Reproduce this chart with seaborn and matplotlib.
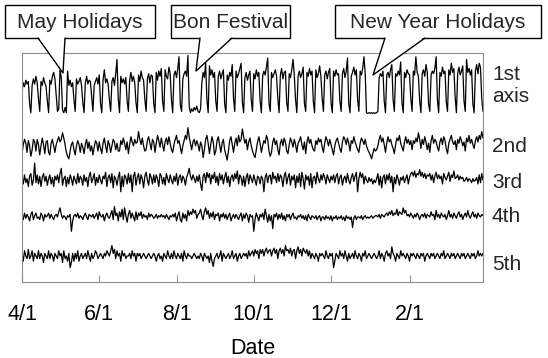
import numpy as np
import pandas as pd
import seaborn as sns
import matplotlib.pyplot as plt
import matplotlib.dates as mdates
from matplotlib.patches import Rectangle, Polygon
from matplotlib.lines import Line2D
from matplotlib.ticker import FuncFormatter

# daily principal-component scores, 2001/4/1 - 2002/3/31 (rows = weeks, Sun..Sat)
start_date = "2001-04-01"
n_days = 365

axis1 = [
    -0.3, 0.4, 0.1, 0.6, 0.3, 0.5, -1.2,
    -1.9, 0.2, 0.7, 0.3, 0.9, 0.4, -0.8,
    -1.8, 0.5, 0.2, 0.8, 0.4, 0.1, -1.0,
    -1.9, 0.6, 0.3, 0.9, 1.2, 0.7, -0.6,
    -1.8, -1.6, 1.4, 0.8, -1.7, -1.9, -1.5,
    -1.9, 1.3, 0.2, 0.6, 0.1, 0.4, -0.9,
    -1.8, 0.7, 0.3, 0.5, 0.8, 0.2, -1.1,
    -1.9, 0.4, 0.9, 0.3, 0.6, 0.5, -0.7,
    -1.8, 0.2, 0.5, 0.8, 0.3, 1.0, -1.2,
    -1.9, 0.6, 1.4, 0.4, 0.7, 0.3, -0.9,
    -1.8, 0.5, 0.8, 0.2, 1.1, 2.2, -0.8,
    -1.9, 0.9, 0.4, 0.7, 0.3, 0.8, -1.0,
    -1.8, 0.6, 1.2, 0.5, 0.9, 0.4, -1.1,
    -1.9, 1.0, 0.5, 1.3, 0.8, 0.6, -0.9,
    -1.8, 0.7, 1.1, 0.4, 1.0, 0.9, -1.2,
    -1.9, 1.2, 0.6, 1.3, 0.9, 1.5, -1.0,
    -1.8, 1.4, 0.9, 0.7, 1.6, 1.1, -0.9,
    -1.9, 1.0, 1.3, 0.8, 1.5, 2.4, -1.3,
    -1.8, 0.7, 1.1, 1.3, 0.9, 2.5, -1.4,
    -1.9, -1.6, -1.8, -1.5, -1.7, -1.4, -1.8,
    -1.9, -1.6, 0.4, 1.2, 0.8, 1.9, -0.9,
    -1.9, 1.7, 1.0, 1.4, 0.8, 1.2, -1.0,
    -1.8, 0.9, 1.3, 0.7, 1.1, 1.4, -1.2,
    -1.9, 1.0, 0.6, 1.2, 0.9, 1.8, -0.8,
    -1.8, 1.3, 0.8, 1.1, 1.5, 1.9, -1.1,
    -1.9, 0.8, 1.2, 0.6, 1.0, 1.3, -0.9,
    -1.8, 1.1, 0.7, 1.4, 0.9, 1.2, -1.0,
    -1.9, 0.9, 1.3, 1.0, 1.6, 2.3, -1.2,
    -1.8, 1.2, 0.8, 1.1, 1.4, 0.9, -0.8,
    -1.9, 1.0, 1.5, 0.7, 1.2, 1.3, -1.1,
    -1.8, 1.1, 0.8, 1.4, 2.2, 1.0, -0.9,
    -1.9, 0.9, 1.3, 0.8, 1.1, 1.6, -1.2,
    -1.8, 1.2, 0.9, 1.5, 1.0, 1.3, -1.0,
    -1.9, 1.4, 0.8, 1.1, 1.7, 0.9, -0.8,
    -1.8, 1.0, 1.3, 0.7, 1.2, 1.5, -1.1,
    -1.9, 1.3, 0.9, 1.4, 1.0, 1.1, -1.0,
    -1.8, 1.1, 1.5, 0.8, 1.3, 2.3, -1.2,
    -1.9, 0.9, 1.2, 1.6, 1.0, 1.4, -0.9,
    -1.8, 1.3, 1.0, 1.5, 2.4, 1.1, -1.9,
    -1.95, -1.9, -1.95, -1.9, -1.95, -1.9, -1.95,
    -1.9, -1.8, 0.8, 1.1, 0.9, 1.3, -1.0,
    -1.9, 1.0, 1.2, 0.8, 1.4, 1.8, -0.9,
    -1.8, 1.1, 0.9, 1.3, 1.0, 2.0, -1.1,
    -1.9, 1.2, 0.8, 1.4, 1.1, 1.0, -0.8,
    -1.8, 1.3, 1.0, 2.4, 1.2, 0.9, -1.0,
    -1.9, 1.1, 1.4, 0.9, 1.8, 1.2, -1.2,
    -1.8, 1.0, 1.3, 1.1, 1.5, 2.4, -0.9,
    -1.9, 1.2, 0.9, 1.6, 1.1, 1.3, -1.1,
    -1.8, 1.4, 1.0, 1.9, 1.2, 1.5, -0.7,
    -1.9, 1.1, 1.6, 1.0, 1.3, 1.7, -1.0,
    -1.8, 2.2, 1.2, 1.5, 1.0, 1.4, -1.2,
    -1.9, 1.3, 1.8, 1.1, 1.9, 1.6, -0.8,
    -1.8,
]

axis2 = [
    -0.5, 0.2, 0.6, 0.3, -0.4, 0.5, 0.1,
    -0.7, -0.2, 0.6, 0.4, -0.3, 0.6, 0.2,
    -0.6, 0.1, 0.7, 0.2, -0.5, 0.4, 0.5,
    -0.4, -0.6, 0.3, 0.6, 0.1, -0.4, 0.2,
    0.5, 0.8, 0.4, 0.6, 1.1, 0.7, 0.2,
    -0.4, -0.7, -0.9, -0.3, 0.2, 0.4, -0.2,
    -0.6, 0.1, 0.5, 0.2, -0.4, 0.3, 0.0,
    -0.5, 0.2, 0.6, -0.1, 0.4, -0.3, 0.1,
    -0.6, 0.0, 0.5, 0.3, -0.3, 0.4, -0.1,
    -0.5, 0.3, 0.7, 0.1, -0.4, 0.5, 0.2,
    -0.4, 0.1, 0.6, 0.4, -0.2, 0.3, -0.3,
    -0.3, 0.5, 0.2, 0.7, 0.3, -0.2, 0.4,
    -0.5, 0.2, 0.8, 0.4, 0.1, 0.6, 0.3,
    0.4, 1.2, 0.6, 0.2, 0.7, 0.1, -0.3,
    -0.2, 0.5, 0.8, 0.3, -0.2, 0.6, 0.4,
    -0.4, 0.3, 0.9, 0.5, 0.0, 0.7, 0.2,
    -0.3, 0.4, 0.7, 0.2, 0.8, 0.3, -0.2,
    -0.4, 0.2, 0.6, 0.9, 0.3, 0.5, 0.0,
    -0.5, 0.1, 0.5, 0.9, 0.6, 1.5, 0.8,
    0.3, -0.2, 0.4, 0.6, 0.1, 0.5, 0.2,
    -0.3, 0.4, 0.1, -0.8, -0.2, 0.6, 0.9,
    0.3, -0.5, 0.2, 0.8, 0.4, -0.6, -0.3,
    0.5, 0.8, 0.2, -0.4, 0.3, 0.6, -0.2,
    -0.6, -1.0, -0.3, 0.5, 0.8, 0.2, -0.4,
    0.3, 0.7, 0.1, 0.9, 0.4, 0.6, 1.4,
    0.8, 0.3, 0.6, -0.2, 0.4, 0.7, 0.1,
    -0.3, -0.6, -0.8, -0.2, 0.4, 0.8, 0.3,
    -0.4, 0.1, 0.5, 0.3, 0.9, 0.6, -0.3,
    -0.7, -0.4, 0.4, 0.7, 0.2, 0.5, -0.2,
    -0.6, 0.3, 0.6, 0.1, 0.7, 0.4, -0.3,
    -0.5, 0.2, 0.7, 0.4, 0.0, 0.6, 0.2,
    -0.4, 0.3, 0.5, 0.8, 0.2, -0.2, 0.4,
    -0.5, 0.4, 0.8, 0.3, 0.6, 0.1, -0.2,
    -0.3, 0.5, 0.2, 0.7, 0.4, 0.6, 0.0,
    -0.4, 0.3, 0.8, 0.5, 0.1, 0.6, 0.2,
    -0.2, -0.6, 0.1, 0.5, 0.7, 0.3, -0.1,
    -0.4, 0.4, 0.8, 0.6, 0.2, 0.7, 0.3,
    -0.3, 0.5, 0.3, 0.8, 0.4, 0.1, -0.2,
    -0.4, 0.3, 0.7, 0.5, 0.2, 0.6, 0.1,
    -0.2, -0.4, -0.6, -0.9, -0.5, -0.1, -0.3,
    -0.2, 0.1, 0.6, 0.9, 0.4, 0.7, 0.2,
    -0.4, 0.3, 0.8, 0.4, 0.6, 0.2, -0.1,
    -0.5, 0.2, 0.7, 0.5, 0.9, 0.3, 0.0,
    -0.3, 0.4, 0.8, 0.3, 0.6, 0.2, 0.5,
    -0.2, 0.5, 0.3, 0.7, 0.4, 1.1, 0.6,
    -0.1, 0.6, 0.2, 0.8, 0.4, -0.2, 0.3,
    -0.4, 0.5, 0.9, 0.3, 0.6, 0.4, 0.0,
    -0.3, 0.4, 0.7, 0.2, 0.8, 0.5, -0.1,
    -0.5, 0.3, 0.6, 0.9, 0.4, 0.2, 0.5,
    -0.2, 0.6, 0.3, 0.8, 0.5, 0.1, 0.4,
    -0.3, 0.7, 0.4, 0.9, 0.3, 0.6, 0.2,
    -0.1, 0.5, 0.8, 0.4, 0.9, 0.6, 1.2,
    0.7,
]

axis3 = [
    0.2, -0.3, 0.4, -0.2, 0.1, -0.5, 0.3,
    0.5, -0.4, 0.0, 1.3, -0.2, 0.4, -0.3,
    0.3, -0.5, 0.2, 0.5, -0.1, 0.3, -0.4,
    0.1, 0.4, -0.3, 0.2, -0.5, 0.3, 0.0,
    0.4, -0.2, 0.5, 0.9, -0.4, 0.1, 0.3,
    -0.5, 0.2, -0.3, 0.4, 0.1, -0.4, 0.3,
    0.0, -0.3, 0.5, -0.2, 0.3, 0.1, -0.4,
    0.4, -0.1, 0.2, -0.5, 0.3, 0.6, -0.2,
    0.1, 0.5, -0.4, 0.2, -0.2, 0.4, 0.0,
    -0.3, 0.3, 0.1, 0.6, -0.5, 0.2, 0.4,
    -0.2, 0.5, -0.6, 0.3, 0.1, -0.4, 0.2,
    0.6, -0.9, 0.3, -0.5, 0.4, 0.2, -0.3,
    0.5, -0.2, 0.4, -0.9, 0.3, 0.6, -0.4,
    0.2, 0.5, -0.3, 0.4, 0.1, -0.6, 0.3,
    0.6, 0.0, -0.4, 0.5, 0.2, -0.3, 0.4,
    -0.2, 0.4, 0.1, -0.5, 0.5, 0.3, -0.3,
    0.2, -0.4, 0.5, 0.1, -0.2, 0.4, 0.0,
    -0.3, 0.3, -0.1, 0.5, -0.4, 0.2, 0.4,
    -0.2, 0.3, 0.1, -0.4, 0.2, 0.5, 0.9,
    0.3, 0.0, 0.4, 0.1, -0.2, 0.3, -0.1,
    0.4, -0.3, -0.8, 0.3, 0.5, -0.2, 0.6,
    0.2, 0.5, -0.3, 0.4, 0.1, 0.6, -0.2,
    0.3, -0.4, 0.5, 0.0, 0.4, -0.3, 0.2,
    0.6, -0.2, 0.3, -0.5, 0.2, 0.4, -0.1,
    0.5, 0.1, 0.7, -0.3, 0.4, 0.2, -0.4,
    0.3, -0.5, 0.2, 0.5, -0.3, 0.4, 0.1,
    -0.2, 0.4, 0.0, -0.4, 0.3, 0.2, -0.3,
    0.3, 0.1, -0.9, 0.2, 0.5, -0.2, 0.3,
    0.4, -0.3, 0.6, 0.1, 0.3, -0.2, 0.5,
    -0.1, 0.4, 0.2, -0.5, 0.3, 0.6, -0.3,
    0.2, 0.5, -0.4, 0.3, 0.0, 0.4, -0.6,
    0.3, -0.2, 0.5, -0.5, 0.6, 0.1, -0.7,
    0.4, 0.0, 0.3, -0.4, 0.5, -0.6, 0.2,
    0.3, -0.3, 0.6, 0.1, -0.2, 0.4, 0.0,
    0.5, 0.2, -0.3, 0.4, 0.1, -0.2, 0.3,
    0.0, 0.4, -0.2, 0.3, 0.5, -0.3, 0.2,
    0.4, -0.4, 0.1, 0.3, -0.2, 0.5, 0.0,
    -0.3, 0.2, 0.5, -0.1, 0.3, 0.6, -0.9,
    0.1, 0.6, 0.2, 0.5, -0.3, 0.3, 0.0,
    -0.2, 0.2, -0.1, 0.1, -0.3, 0.0, -0.2,
    0.1, 0.5, -0.4, 0.3, -0.6, 0.2, 0.4,
    -0.3, 0.4, 0.0, 0.5, -0.2, 0.3, -0.9,
    0.2, -0.3, 0.4, 0.1, -0.4, 0.2, 0.0,
    0.3, -0.2, 0.1, 0.4, -0.3, 0.2, 0.5,
    0.6, 0.3, 0.7, 0.2, 0.5, 0.4, 0.8,
    0.3, 0.6, 0.2, 0.5, 0.1, 0.4, 0.3,
    0.5, 0.0, 0.4, -0.2, 0.3, 0.6, 0.1,
    0.4, 0.1, 0.3, -0.3, 0.5, 0.2, 0.0,
    0.3, 0.6, -0.1, 0.4, 0.2, 0.7, 0.1,
    0.2, 0.4, 0.0, 0.3, 0.1, 0.2, -0.1,
    0.0, 0.2, -0.1, 0.1, 0.0, -0.2, 0.1,
    -0.1, 0.0, 0.2, -0.3, 0.4, -0.2, 0.5,
    0.0,
]

axis4 = [
    0.1, -0.2, 0.3, -0.1, 0.2, 0.0, -0.3,
    0.2, 0.4, -0.2, 0.1, 0.3, -0.1, 0.0,
    -0.2, 0.3, 0.1, -0.3, 0.2, 0.0, 0.1,
    0.3, -0.1, 0.2, 0.0, -0.2, 0.1, 0.2,
    0.0, 0.4, 0.7, 0.2, -0.1, 0.1, 0.0,
    -0.2, 0.1, 0.0, 0.2, -1.1, -0.3, 0.1,
    0.2, 0.0, 0.3, -0.1, 0.1, 0.0, -0.2,
    0.1, 0.3, 0.0, -0.2, 0.2, 0.1, 0.0,
    0.2, -0.1, 0.1, 0.3, -0.2, 0.4, 0.1,
    0.0, 0.2, -0.3, 0.1, 0.3, 0.0, -0.1,
    0.2, 0.5, -0.2, 0.8, 0.1, 0.3, -0.3,
    0.4, 0.0, 0.6, -0.2, 0.7, 0.1, -0.4,
    0.2, 0.5, -0.1, 0.3, 0.0, -0.3, 0.4,
    -0.2, 0.3, 0.1, 0.4, -0.1, 0.2, 0.0,
    0.1, -0.2, 0.3, 0.0, 0.2, 0.1, -0.1,
    0.0, 0.2, -0.1, 0.1, 0.0, 0.2, 0.0,
    0.1, -0.1, 0.2, 0.0, -0.2, 0.1, 0.0,
    0.2, 0.0, 0.3, -0.3, 0.1, 0.4, -0.2,
    -0.4, 0.3, -0.1, 0.2, -0.3, 0.5, 0.1,
    0.4, 0.2, 0.6, 0.3, 0.5, -0.1, 0.2,
    0.3, 0.6, 0.1, -0.2, 0.4, 0.7, 0.2,
    0.5, -0.1, 0.3, 0.0, 0.4, -0.2, 0.2,
    0.1, 0.3, -0.3, 0.2, 0.0, 0.3, -0.1,
    0.2, -0.2, 0.1, 0.3, -0.3, 0.0, 0.2,
    -0.1, 0.2, 0.0, -0.2, 0.1, 0.3, -0.3,
    0.2, -0.1, 0.3, 0.1, -0.4, 0.2, 0.0,
    0.1, -1.1, -0.2, 0.3, 0.0, -0.3, 0.2,
    0.0, 0.3, -0.2, 0.6, 0.1, -0.4, 0.2,
    -0.3, 0.1, -0.9, 0.2, 0.0, 0.3, -0.2,
    0.2, -0.1, 0.3, -0.2, 0.1, -0.3, 0.2,
    0.0, 0.2, -0.2, 0.1, 0.3, -0.1, 0.0,
    -0.2, 0.1, 0.0, 0.2, -0.1, 0.1, -0.2,
    0.1, -0.3, 0.2, 0.0, -0.2, 0.1, 0.0,
    -0.1, 0.1, -0.2, 0.0, 0.1, -0.3, 0.0,
    0.0, -0.2, 0.1, -0.1, 0.0, -0.2, 0.1,
    -0.3, 0.0, -0.1, 0.1, -0.2, 0.0, -0.1,
    0.1, -0.2, 0.0, -0.3, 0.1, -0.1, 0.0,
    -0.2, 0.0, -0.8, -0.1, 0.1, -0.2, 0.0,
    0.0, -0.1, 0.1, -0.2, 0.0, 0.1, -0.1,
    0.0, -0.1, 0.0, 0.1, -0.1, 0.0, 0.1,
    0.1, 0.0, 0.2, -0.1, 0.2, 0.1, 0.0,
    0.2, 0.3, 0.1, 0.4, 0.2, 0.5, 0.1,
    0.3, 0.2, 0.6, 0.1, 0.4, 0.3, 0.2,
    0.7, 0.3, 0.5, 0.1, 0.2, 0.0, 0.3,
    0.1, -0.1, 0.2, 0.0, 0.3, 0.1, -0.2,
    0.1, 0.2, 0.0, 0.3, -0.1, 0.2, 0.1,
    0.0, 0.4, 0.1, 0.2, -0.2, 0.5, 0.0,
    0.2, -0.1, 0.3, 0.1, 0.0, 0.2, -0.2,
    0.1, 0.5, 0.0, 0.2, -0.1, 0.3, 0.1,
    -0.1, 0.2, 0.4, 0.0, 0.2, -0.2, 0.1,
    0.3, 0.0, 0.5, 0.1, -0.1, 0.2, 0.4,
    0.0, 0.2, -0.1, 0.3, 0.1, 0.0, 0.2,
    0.1,
]

axis5 = [
    0.2, -0.4, 0.4, 0.0, -0.2, 0.5, -0.2,
    0.0, 0.4, -0.4, 0.2, 0.0, -0.2, 0.4,
    -0.2, 0.2, 0.0, -0.5, 0.2, 0.0, -0.2,
    0.4, -0.2, 0.2, 0.0, -0.4, 0.2, 0.0,
    -0.2, 0.4, 0.0, 0.2, -0.5, 0.4, -0.2,
    0.0, -0.4, 0.2, -0.9, -0.5, 0.2, -0.4,
    0.2, -0.2, 0.4, -0.4, 0.0, 0.2, -0.2,
    0.0, 0.2, -0.2, 0.4, 0.0, -0.4, 0.2,
    -0.2, 0.0, 0.4, 0.2, -0.2, 0.0, 0.2,
    0.0, -0.2, 0.2, 0.0, 0.4, 0.2, 0.0,
    0.4, 0.8, 0.2, 0.5, -0.2, 0.4, 0.0,
    0.2, -0.4, 0.4, 0.0, 0.2, -0.2, 0.0,
    0.0, 0.2, -0.2, 0.4, 0.0, 0.2, -0.4,
    0.2, 0.0, 0.2, -0.2, 0.0, 0.2, 0.0,
    -0.2, 0.0, 0.2, 0.0, -0.2, 0.0, 0.2,
    0.0, -0.4, 0.0, 0.2, -0.2, 0.0, -0.4,
    0.2, 0.0, -0.2, 0.4, 0.0, -0.2, 0.2,
    -0.2, 0.4, 0.0, -0.2, 0.2, 0.0, -0.2,
    0.2, -0.4, 0.4, 0.0, -0.2, 0.2, 0.0,
    0.0, -0.2, 0.0, 0.2, 0.0, -0.2, 0.0,
    -0.2, 0.2, 0.0, -0.4, 0.2, 0.0, -0.2,
    0.0, -0.5, 0.2, -0.4, -0.8, -0.2, 0.0,
    0.2, -0.2, 0.0, 0.4, -0.4, 0.2, 0.0,
    -0.2, 0.0, 0.2, -0.2, 0.0, 0.4, -0.2,
    0.0, 0.2, -0.4, 0.0, 0.2, -0.2, 0.0,
    0.2, 0.0, 0.2, -0.2, 0.4, 0.0, 0.2,
    0.4, 0.0, 0.5, 0.2, 0.4, -0.2, 0.5,
    0.2, 0.5, 0.0, 0.4, 0.6, 0.2, 0.4,
    0.5, 0.0, 0.4, 0.6, 0.2, 0.5, -0.2,
    0.4, 0.6, 0.2, 0.5, 0.0, 0.8, 0.4,
    0.5, 0.2, 0.6, 0.0, 0.4, 0.5, -0.2,
    0.4, 0.7, 0.2, 0.5, 0.0, 0.6, 0.4,
    0.2, 0.5, 0.0, 0.4, -0.2, 0.2, 0.0,
    -0.2, 0.2, 0.0, -0.4, 0.2, 0.0, 0.2,
    0.0, -0.2, 0.4, 0.0, -0.2, 0.2, 0.0,
    0.2, -0.9, -0.4, 0.2, 0.0, -0.2, 0.4,
    0.0, 0.2, -0.2, 0.4, 0.0, -0.4, 0.2,
    -0.2, 0.0, 0.2, -0.2, 0.4, 0.0, -0.2,
    0.2, 0.0, -0.4, 0.2, 0.0, 0.4, -0.2,
    0.0, 0.2, 0.0, -0.2, 0.0, 0.2, 0.0,
    -0.2, 0.0, 0.4, -0.2, 0.2, 0.0, -0.4,
    0.2, 0.4, 0.0, 0.2, -0.2, 0.7, 0.2,
    0.0, -0.4, 0.2, 0.0, -0.2, 0.4, 0.0,
    0.2, 0.0, -0.2, 0.2, 0.0, -0.4, 0.2,
    0.0, 0.2, 0.0, -0.2, 0.2, 0.0, -0.2,
    0.2, 0.0, 0.2, -0.4, 0.0, 0.2, 0.0,
    -0.2, 0.2, 0.0, 0.2, -0.2, 0.0, 0.2,
    0.0, -0.2, 0.2, 0.0, 0.4, -0.2, 0.0,
    0.2, 0.0, -0.2, 0.2, 0.0, 0.2, -0.2,
    0.0, 0.2, 0.0, -0.2, 0.2, 0.0, 0.2,
    -0.2, 0.0, 0.2, 0.0, -0.2, 0.2, 0.0,
    0.2, -0.2, 0.0, 0.4, 0.0, 0.2, 0.0,
    0.2,
]

series = [axis1, axis2, axis3, axis4, axis5]
series_labels = ["1st\naxis", "2nd", "3rd", "4th", "5th"]
offsets = [0.0, -4.55, -7.08, -9.92, -12.92]   # vertical stacking
label_y_px = [85, 146, 182, 216, 265]

callouts = ["May Holidays", "Bon Festival", "New Year Holidays"]
# box (x0, y0, x1, y1), wedge base left/right and tip, in pixels from top-left
callout_boxes = [(5, 5, 155, 38), (171, 5, 290, 38), (335, 5, 541, 38)]
callout_wedges = [((38, 65), (63, 73)), ((200, 232), (196, 71)), ((385, 425), (373, 75))]

sns.set_theme(style="white")
plt.rcParams["font.family"] = ["Liberation Sans", "DejaVu Sans"]

W, H = 548, 358
fig = plt.figure(figsize=(W / 100, H / 100), dpi=100)
ax = fig.add_axes([22 / W, 1 - 282 / H, (483 - 22) / W, (282 - 53) / H])

dates = pd.date_range(start_date, periods=n_days, freq="D")
for vals, off in zip(series, offsets):
    assert len(vals) == n_days
    sns.lineplot(x=dates, y=np.array(vals) + off, color="black", lw=0.9, ax=ax)

ax.set_xlim(dates[0], dates[-1])
ax.set_ylim(-14.92, 2.69)
ax.set_yticks([])
ax.xaxis.set_major_locator(mdates.MonthLocator(bymonth=[2, 4, 6, 8, 10, 12]))
ax.xaxis.set_major_formatter(FuncFormatter(
    lambda v, p: f"{mdates.num2date(v).month}/{mdates.num2date(v).day}"))
ax.tick_params(axis="x", direction="in", length=5, width=0.8, color="0.6",
               pad=16, labelsize=15.5, labelcolor="black", bottom=True)
ax.set_xlabel("Date", fontsize=15.5, labelpad=9, color="black")
ax.set_ylabel("")
for sp in ax.spines.values():
    sp.set_color("0.55")
    sp.set_linewidth(0.8)


def fx(x):
    return x / W


def fy(y):
    return 1 - y / H


for lab, y in zip(series_labels, label_y_px):
    fig.text(fx(492), fy(y), lab, fontsize=15, ha="left", va="center",
             linespacing=1.2)

for text, (x0, y0, x1, y1), ((bl, br), (tx, ty)) in zip(callouts, callout_boxes, callout_wedges):
    fig.add_artist(Rectangle((fx(x0), fy(y1)), fx(x1 - x0), (y1 - y0) / H,
                             transform=fig.transFigure, facecolor="white",
                             edgecolor="black", lw=1.0, zorder=5))
    fig.add_artist(Polygon([(fx(bl), fy(y1 - 1.5)), (fx(br), fy(y1 - 1.5)), (fx(tx), fy(ty))],
                           closed=True, transform=fig.transFigure, facecolor="white",
                           edgecolor="none", zorder=6))
    fig.add_artist(Line2D([fx(bl), fx(tx), fx(br)], [fy(y1), fy(ty), fy(y1)],
                          transform=fig.transFigure, color="black", lw=1.0, zorder=7))
    fig.text(fx((x0 + x1) / 2), fy((y0 + y1) / 2 + 1), text, fontsize=15,
             ha="center", va="center", zorder=8)

fig.savefig("out.png", dpi=100)
